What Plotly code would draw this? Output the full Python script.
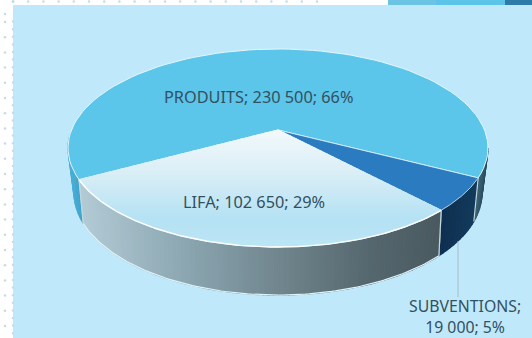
import numpy as np
import plotly.graph_objects as go

# Data
categories = ["SUBVENTIONS", "LIFA", "PRODUITS"]
values = [19000, 102650, 230500]
labels = ["SUBVENTIONS;<br>19 000; 5%", "LIFA; 102 650; 29%", "PRODUITS; 230 500; 66%"]

# Look
W, H = 532, 338
BG = "#bfe9fa"
TOP_BLUE = "#5cc5ea"
SUB_BLUE = "#2a7bc0"
TXT = "#34505f"
START_DEG = 27.3
TOP = dict(cx=278, cy=148, rx=210, ry=99, a=-0.182)
BOT = dict(cx=278, cy=193, rx=204, ry=102, a=-0.205)


def project(deg, p):
    """Perspective view of a point on the pie's rim."""
    t = np.radians(np.asarray(deg, float))
    u, v = np.cos(t), np.sin(t)
    d = 1 + p["a"] * v
    return p["cx"] + p["rx"] * u * np.sqrt(1 - p["a"] ** 2) / d, p["cy"] + p["ry"] * (v + p["a"]) / d


def apex(p):
    return p["cx"], p["cy"] + p["ry"] * p["a"]


def lerp_hex(stops, f):
    f = min(max(f, 0), 1)
    xs = [s[0] for s in stops]
    ch = [np.interp(f, xs, [int(s[1][i:i + 2], 16) for s in stops]) for i in (1, 3, 5)]
    return "rgb(%d,%d,%d)" % tuple(ch)


def clip(px, py, y0, y1):
    """Clip a convex polygon to a horizontal band."""
    pts = list(zip(px, py))
    for sign, lim in ((1, y0), (-1, y1)):
        out = []
        for i, (xa, ya) in enumerate(pts):
            xb, yb = pts[(i + 1) % len(pts)]
            ina, inb = sign * (ya - lim) >= 0, sign * (yb - lim) >= 0
            if ina:
                out.append((xa, ya))
            if ina != inb:
                k = (lim - ya) / (yb - ya)
                out.append((xa + k * (xb - xa), lim))
        pts = out
        if not pts:
            return [], []
    return [q[0] for q in pts], [q[1] for q in pts]


fig = go.Figure()


def poly(x, y, color, line=None, w=0):
    fig.add_trace(go.Scatter(x=list(x) + [x[0]], y=list(y) + [y[0]], mode="lines", fill="toself",
                             fillcolor=color, hoverinfo="skip",
                             line=dict(color=line or color, width=w if line else 1.2)))


def wall(a0, a1, stops, n=48, edge=True):
    grid = np.linspace(a0, a1, n + 1)
    xt0, _ = project(grid, TOP)
    lo, hi = min(xt0), max(xt0)
    for g0, g1 in zip(grid[:-1], grid[1:]):
        arc = np.linspace(g0, g1, 4)
        xt, yt = project(arc, TOP)
        xb, yb = project(arc[::-1], BOT)
        f = (project((g0 + g1) / 2, TOP)[0] - lo) / max(hi - lo, 1)
        poly(list(xt) + list(xb), list(yt) + list(yb), lerp_hex(stops, f))
    if edge:
        for g in (a0, a1):
            tx, ty = project(g, TOP)
            bx, by = project(g, BOT)
            fig.add_trace(go.Scatter(x=[tx, bx], y=[ty, by], mode="lines", hoverinfo="skip",
                                     line=dict(color="#c3d6de", width=1.2)))


# Slice angles from the values
fracs = np.array(values, float) / sum(values)
edges = START_DEG + np.concatenate([[0], np.cumsum(fracs) * 360])
sub0, sub1, lifa1, prod1 = edges

# Side walls
silh_r = np.degrees(np.arcsin(-TOP["a"]))
silh_l = 180 - silh_r
wall(silh_r, sub0, [(0, "#3c6474"), (1, "#24485c")], n=10, edge=False)
wall(lifa1, silh_l + 8, [(0, "#4aaed4"), (1, "#3fa4cc")], n=10, edge=False)
wall(sub0, sub1, [(0, "#0f2f50"), (1, "#143c5e")], n=12)
wall(sub1, lifa1, [(0, "#b3cbd5"), (0.3, "#8ba6b1"), (0.55, "#71868e"), (0.8, "#56686f"), (1, "#4a5a60")], n=90)

# Lower rim highlight
g = np.linspace(sub1, lifa1, 120)
xb, yb = project(g, BOT)
fig.add_trace(go.Scatter(x=xb, y=yb, mode="lines", hoverinfo="skip", line=dict(color="#dff3fb", width=1.2)))

# Top face
ax, ay = apex(TOP)
def face(a0, a1):
    x, y = project(np.linspace(a0, a1, 90), TOP)
    return [ax] + list(x), [ay] + list(y)

px, py = face(lifa1, prod1)
poly(px, py, TOP_BLUE, "#e6f6fc", 1)
px, py = face(sub0, sub1)
poly(px, py, SUB_BLUE, "#d8eef8", 0.8)

lx, ly = face(sub1, lifa1)
lifa_stops = [(0, "#f2f9fb"), (0.35, "#dbeff7"), (0.75, "#b5e2f4"), (1, "#bce6f6")]
bands = np.arange(min(ly), max(ly) + 3, 3)
for b0, b1 in zip(bands[:-1], bands[1:]):
    bx, by = clip(lx, ly, b0, b1 + 0.6)
    if bx:
        poly(bx, by, lerp_hex(lifa_stops, (b0 - min(ly)) / (max(ly) - min(ly))))

# Top rim highlight on the front edge
g = np.linspace(sub1, lifa1, 120)
xt, yt = project(g, TOP)
fig.add_trace(go.Scatter(x=xt, y=yt, mode="lines", hoverinfo="skip", line=dict(color="#ffffff", width=1.4)))

# Leader line
fig.add_trace(go.Scatter(x=[458, 458], y=[241, 297], mode="lines", hoverinfo="skip",
                         line=dict(color="#a9bcc6", width=1)))

# Page decoration dots
dx = [5] * 22 + [13] * 44
dy = list(np.arange(22, 338, 15.2)) + list(np.arange(14, 338, 7.6))[:44]
tx = list(np.arange(13, 360, 15.2))
fig.add_trace(go.Scatter(x=dx + tx, y=dy + [1.5] * len(tx), mode="markers", hoverinfo="skip",
                         marker=dict(size=2.5, color="#c4dde8")))

# Labels
font = dict(family="Noto Sans, Open Sans, sans-serif", size=16.3, color=TXT)
fig.add_annotation(x=258, y=97, text=labels[2], showarrow=False, font=font)
fig.add_annotation(x=254, y=202, text=labels[1], showarrow=False, font=font)
fig.add_annotation(x=465, y=316, text=labels[0], showarrow=False, font=dict(font, size=15.8), align="center")

# Background panel, page strips
shapes = [
    dict(type="rect", x0=13, x1=W, y0=5, y1=H, fillcolor=BG, line_width=0, layer="below"),
    dict(type="rect", x0=388, x1=436, y0=0, y1=5, fillcolor="#6cc4e4", line_width=0, layer="below"),
    dict(type="rect", x0=436, x1=505, y0=0, y1=5, fillcolor="#5cc4e8", line_width=0, layer="below"),
    dict(type="rect", x0=505, x1=W, y0=0, y1=5, fillcolor="#2e7aa8", line_width=0, layer="below"),
]

fig.update_layout(
    width=W, height=H, margin=dict(l=0, r=0, t=0, b=0), showlegend=False,
    paper_bgcolor="#ffffff", plot_bgcolor="#ffffff", shapes=shapes,
    xaxis=dict(range=[0, W], visible=False, fixedrange=True),
    yaxis=dict(range=[H, 0], visible=False, fixedrange=True),
)
fig.write_html("out.html", config=dict(displayModeBar=False),
               post_script="document.body.style.margin='0';document.body.style.overflow='hidden';")
